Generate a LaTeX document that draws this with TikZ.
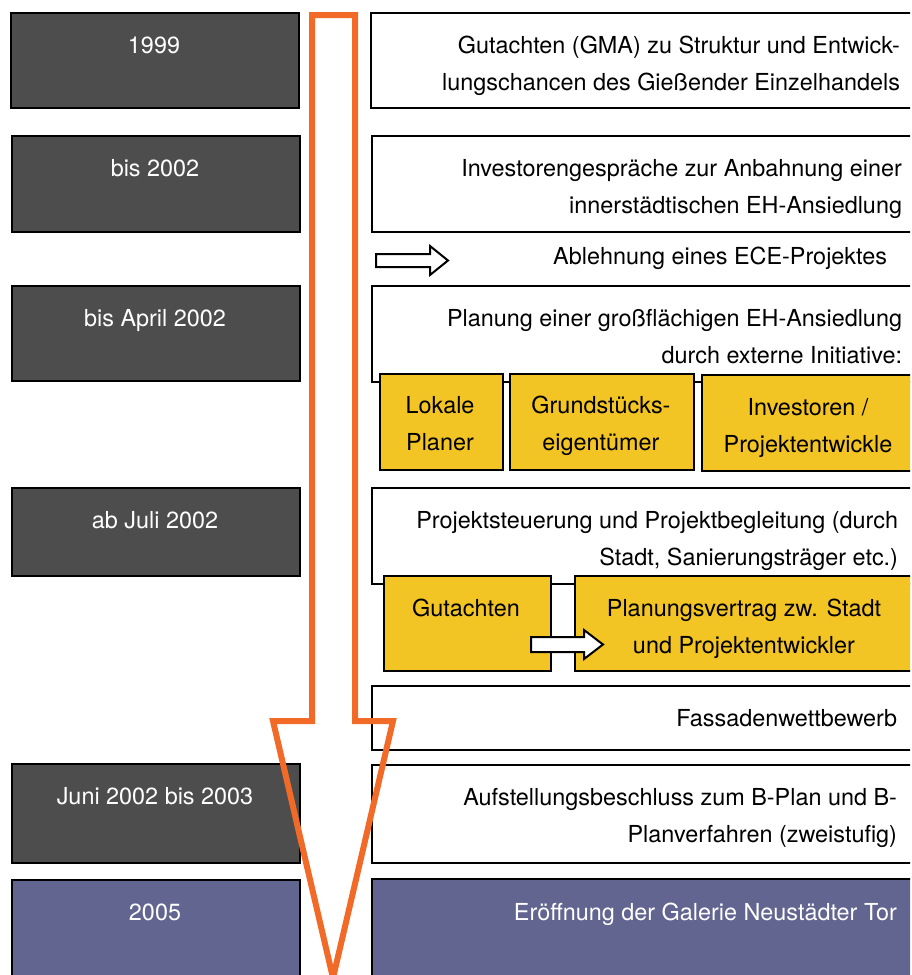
\documentclass[tikz,border=0pt]{standalone}
\usepackage{fontspec}
\setmainfont{TeX Gyre Heros}
\usetikzlibrary{positioning}

\definecolor{dategray}{RGB}{77,77,77}
\definecolor{finalblue}{RGB}{99,101,145}
\definecolor{actoryellow}{RGB}{242,196,36}
\definecolor{timeorange}{RGB}{241,106,39}

\tikzset{every picture/.style={line width=2pt}}
\tikzset{
  box/.style={draw=black, line width=2pt, inner sep=0pt, anchor=north west},
  datebox/.style={box, fill=dategray, minimum width=288pt},
  stepbox/.style={box, fill=white, minimum width=545pt},
  finalbox/.style={box, fill=finalblue},
  actorbox/.style={box, fill=actoryellow},
  datetext/.style={anchor=base, inner sep=0pt, text=white, font=\fontsize{23.4}{37}\selectfont},
  steptext/.style={anchor=base east, inner sep=0pt, align=right, font=\fontsize{23.4}{37}\selectfont},
  actortext/.style={anchor=base, inner sep=0pt, align=center, font=\fontsize{23.4}{37}\selectfont},
  blockarrow/.style={draw=black, fill=white, line width=2pt},
}

\begin{document}
\begin{tikzpicture}[x=1pt,y=1pt,yscale=-1]
  \useasboundingbox (0,0) rectangle (911,975);
  \clip (0,0) rectangle (910,975);

  % dates
  \node [datebox, minimum height=95pt] (d1) at (10,12) {};
  \node [datebox, minimum height=96pt] (d2) at (11,135) {};
  \node [datebox, minimum height=95pt] (d3) at (11,285) {};
  \node [datebox, minimum height=88pt] (d4) at (11,487) {};
  \node [datebox, minimum height=99pt] (d5) at (11,763) {};
  \node [datebox, fill=finalblue, minimum height=100pt] (d6) at (11,879) {};

  % steps
  \node [stepbox, minimum height=95pt] (r1) at (370,12) {};
  \node [stepbox, minimum height=96pt] (r2) at (371,135) {};
  \node [stepbox, minimum height=96pt] (r3) at (371,285) {};
  \node [stepbox, minimum height=96pt] (r4) at (371,487) {};
  \node [stepbox, minimum height=64pt] (r5) at (371,685) {};
  \node [stepbox, minimum height=98pt] (r6) at (371,764) {};
  \node [finalbox, minimum width=545pt, minimum height=100pt] (r7) at (371,878) {};

  % actors
  \node [actorbox, minimum width=123pt, minimum height=96pt] (lokal) at (379,373) {};
  \node [actorbox, minimum width=184pt, minimum height=96pt] (grund) at (509,373) {};
  \node [actorbox, minimum width=215pt, minimum height=96pt] (invest) at (701,374) {};
  \node [actorbox, minimum width=167pt, minimum height=95pt] (gutacht) at (383,575) {};
  \node [actorbox, minimum width=340pt, minimum height=95pt] (vertrag) at (574,575) {};

  % hollow arrows
  \draw [blockarrow] (376,254) -- (430,254) -- (430,246) -- (448,260.5) -- (430,275) -- (430,267) -- (376,267) -- cycle;
  \draw [blockarrow] (531,637) -- (584,637) -- (584,630) -- (603,644.5) -- (584,659) -- (584,652) -- (531,652) -- cycle;

  % texts (multi-line: last baseline)
  \node [datetext] (t1) at (154,53) {1999};
  \node [datetext] (t2) at (155,176) {bis 2002};
  \node [datetext] (t3) at (155,326) {bis April 2002};
  \node [datetext] (t4) at (155,528) {ab Juli 2002};
  \node [datetext] (t5) at (155,804) {Juni 2002 bis 2003};
  \node [datetext] (t6) at (155,920) {2005};

  \node [steptext] (s1) at (901,90) {Gutachten (GMA) zu Struktur und Entwick-\\lungschancen des Gießender Einzelhandels};
  \node [steptext] (s2) at (903,213) {Investorengespräche zur Anbahnung einer\\innerstädtischen EH-Ansiedlung};
  \node [steptext] (s3) at (888,264) {Ablehnung eines ECE-Projektes};
  \node [steptext] (s4) at (903,363) {Planung einer großflächigen EH-Ansiedlung\\durch externe Initiative:};
  \node [steptext] (s5) at (899,565) {Projektsteuerung und Projektbegleitung (durch\\Stadt, Sanierungsträger etc.)};
  \node [steptext] (s6) at (898,726) {Fassadenwettbewerb};
  \node [steptext] (s7) at (898,842) {Aufstellungsbeschluss zum B-Plan und B-\\Planverfahren (zweistufig)};
  \node [steptext, text=white] (s8) at (898,920) {Eröffnung der Galerie Neustädter Tor};

  \node [actortext] (a1) at (440,450) {Lokale\\Planer};
  \node [actortext] (a2) at (601,450) {Grundstücks-\\eigentümer};
  \node [actortext] (a3) at (808,452) {Investoren /\\Projektentwickle};
  \node [actortext] (a4) at (466,616) {Gutachten};
  \node [actortext] (a5) at (744,653) {Planungsvertrag zw. Stadt\\und Projektentwickler};

  % time arrow
  \draw [draw=timeorange, line width=6pt, miter limit=20] (312,15) -- (355,15) -- (355,721) -- (393,721) -- (333,978) -- (273,721) -- (312,721) -- cycle;

\end{tikzpicture}
\end{document}
